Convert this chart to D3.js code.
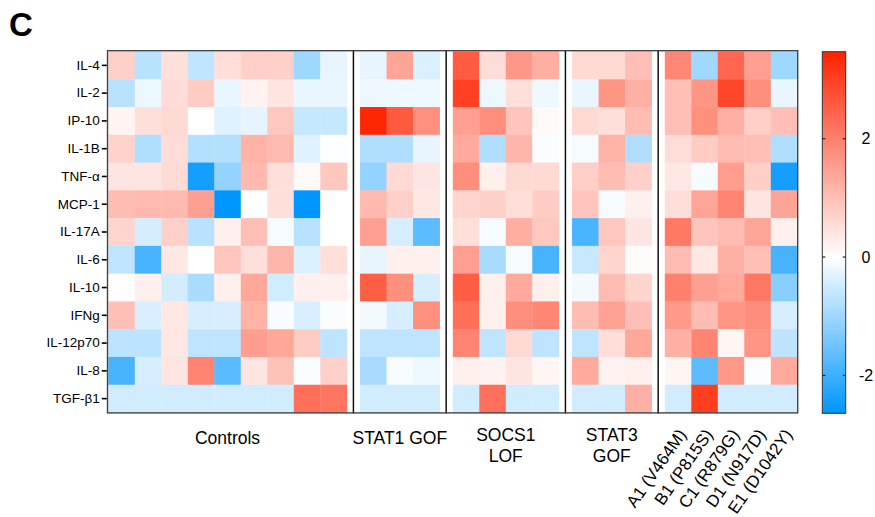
<!DOCTYPE html>
<html>
<head>
<meta charset="utf-8">
<script src="https://cdn.jsdelivr.net/npm/d3@7"></script>
<style>
  html, body { margin: 0; padding: 0; background: #fff; }
  svg { display: block; font-family: "Liberation Sans", Arial, sans-serif; }
</style>
</head>
<body>
<svg id="chart" width="875" height="517"></svg>
<script>
// Cytokines (rows, top to bottom)
const cytokines = ["IL-4", "IL-2", "IP-10", "IL-1B", "TNF-α", "MCP-1", "IL-17A",
                   "IL-6", "IL-10", "IFNg", "IL-12p70", "IL-8", "TGF-β1"];

// z-scores per group: one row per cytokine, one value per subject
const controls = [
  [0.74, -0.73, 0.5, -0.65, 0.52, 0.75, 0.74, -1.0, -0.24],
  [-0.73, -0.2, 0.55, 0.8, -0.22, 0.2, 0.41, -0.22, -0.22],
  [0.18, 0.5, 0.6, 0, -0.33, -0.27, 0.87, -0.59, -0.59],
  [0.71, -0.82, 0.55, -0.78, -0.78, 1.2, 1.08, -0.33, -0.03],
  [0.41, 0.41, 0.57, -2.43, -1.1, 1.1, 0.5, 0.1, 0.87],
  [1.05, 1.1, 1.08, 1.5, -2.64, 0, 0.5, -2.64, 0],
  [0.66, -0.43, 0.74, -0.73, 0.24, 1.0, -0.1, -0.73, 0],
  [-0.65, -1.9, 0.37, 0, 0.9, 0.5, 1.15, -0.36, 0.5],
  [0.03, 0.24, -0.46, -0.88, 0.24, 1.37, -0.49, 0.24, 0.24],
  [1.0, -0.4, 0.37, -0.42, -0.42, 1.2, -0.07, -0.4, -0.05],
  [-0.69, -0.69, 0.37, -0.67, -0.67, 1.52, 1.37, 0.8, -0.67],
  [-1.9, -0.42, 0.41, 1.92, -1.7, 0.41, 0.95, -0.05, 0.74],
  [-0.47, -0.47, -0.47, -0.47, -0.47, -0.47, -0.47, 2.25, 2.17]
];
const stat1Gof = [
  [-0.24, 1.41, -0.37],
  [-0.2, -0.2, -0.2],
  [3.4, 2.6, 1.75],
  [-0.82, -0.82, -0.24],
  [-1.1, 0.6, 0.41],
  [1.1, 0.74, 0.37],
  [1.5, -0.42, -1.68],
  [-0.24, 0.24, 0.24],
  [2.55, 1.75, -0.42],
  [-0.13, -0.42, 1.75],
  [-0.67, -0.67, -0.67],
  [-0.9, -0.07, -0.18],
  [-0.47, -0.47, -0.47]
];
const socs1Lof = [
  [2.58, 0.55, 1.62, 1.27],
  [3.0, -0.2, 0.5, -0.18],
  [1.5, 1.78, 0.91, 0.1],
  [1.33, -0.82, 1.15, -0.05],
  [1.78, 0.24, 0.6, 0.6],
  [0.66, 0.74, 0.53, 0.8],
  [0.5, -0.1, 1.27, 0.87],
  [1.5, -0.9, -0.1, -1.9],
  [2.55, 0.24, 1.33, 0.24],
  [2.27, 0.24, 1.78, 1.9],
  [1.92, -0.67, 0.6, -0.67],
  [0.24, 0.2, 0.41, 0.16],
  [-0.47, 2.25, -0.47, -0.47]
];
const stat3Gof = [
  [0.6, 0.6, 1.0],
  [-0.22, 1.66, 1.24],
  [0.6, 0.5, 1.05],
  [-0.1, 1.2, -0.82],
  [0.77, 1.05, 0.74],
  [0.91, -0.1, 0.24],
  [-1.88, 0.87, 0.41],
  [-0.57, 0.66, 0.06],
  [-0.13, 1.05, 0.66],
  [1.05, 1.46, 1.0],
  [-0.67, 0.53, 1.37],
  [1.33, 0.2, 0.24],
  [-0.47, -0.47, 1.24]
];
const patients = [
  [1.88, -0.98, 2.4, 1.5, -1.0],
  [1.0, 1.66, 2.9, 1.78, -0.22],
  [1.0, 1.75, 1.24, 0.77, 1.0],
  [0.55, 0.8, 1.05, 1.0, -0.82],
  [0.37, -0.1, 1.52, 0.77, -2.43],
  [0.52, 1.41, 1.92, 0.41, 1.41],
  [2.1, 0.91, 1.05, 1.41, 0.24],
  [1.05, 0.37, 1.24, 1.0, -1.9],
  [2.0, 1.5, 1.33, 2.12, -1.23],
  [1.58, 1.05, 1.66, 1.78, -0.42],
  [1.24, 1.92, 0.16, 1.66, -0.67],
  [0.16, -1.68, 1.62, -0.04, 1.33],
  [-0.47, 3.05, -0.47, -0.47, -0.47]
];
const patientLabels = ["A1 (V464M)", "B1 (P815S)", "C1 (R879G)", "D1 (N917D)", "E1 (D1042Y)"];

const groupNames = [["Controls"], ["STAT1 GOF"], ["SOCS1", "LOF"], ["STAT3", "GOF"], []];
const groupData = [controls, stat1Gof, socs1Lof, stat3Gof, patients];

// colour scale limits
const zMin = -2.64, zMax = 3.47;
const colorTicks = [-2, 0, 2];

// ---- layout ----
const svg = d3.select("#chart");
const mLeft = 108.3, mRight = 797.3, mTop = 51.5, mBottom = 412.5;
const gapUnits = 0.5;

// lay columns out in units: one unit per subject, half a unit between groups
const columns = [];
let unit = 0;
const groupSpans = [];
groupData.forEach((g, gi) => {
  const n = g[0].length;
  const start = unit;
  for (let c = 0; c < n; c++) {
    columns.push({ group: gi, col: c, u: unit });
    unit += 1;
  }
  groupSpans.push({ start, end: unit, sep: unit + gapUnits / 2 });
  if (gi < groupData.length - 1) unit += gapUnits;
});
const x = d3.scaleLinear().domain([0, unit]).range([mLeft, mRight]);
const y = d3.scaleBand().domain(cytokines).range([mTop, mBottom]);

const color = d3.scaleLinear()
  .domain([zMin, 0, zMax])
  .range(["rgb(0,150,255)", "#ffffff", "rgb(255,34,0)"])
  .interpolate(d3.interpolateRgb);

// cells
const cells = [];
columns.forEach(col => {
  cytokines.forEach((name, ri) => {
    cells.push({ col, name, v: groupData[col.group][ri][col.col] });
  });
});
svg.append("g").selectAll("rect").data(cells).join("rect")
  .attr("x", d => x(d.col.u))
  .attr("y", d => y(d.name))
  .attr("width", x(1) - x(0) + 0.4)
  .attr("height", y.bandwidth() + 0.4)
  .attr("fill", d => color(d.v));

// group separators
svg.append("g").selectAll("line").data(groupSpans.slice(0, -1)).join("line")
  .attr("x1", d => x(d.sep)).attr("x2", d => x(d.sep))
  .attr("y1", mTop - 1).attr("y2", mBottom + 1)
  .attr("stroke", "#111").attr("stroke-width", 1.5);

// frame
svg.append("rect")
  .attr("x", mLeft - 0.8).attr("y", mTop - 0.8)
  .attr("width", mRight - mLeft + 1.2).attr("height", mBottom - mTop + 1.2)
  .attr("fill", "none").attr("stroke", "#444").attr("stroke-width", 1.4);

// row axis
const yAxis = d3.axisLeft(y).tickSize(5).tickPadding(2);
const ga = svg.append("g").attr("transform", `translate(${mLeft - 1.5},0)`).call(yAxis);
ga.select(".domain").remove();
ga.selectAll(".tick line").attr("stroke", "#000").attr("stroke-width", 1.6);
ga.selectAll(".tick text").attr("fill", "#000").style("font-size", "13.5px")
  .style("font-family", "'Liberation Sans', Arial, sans-serif");

// group labels
groupNames.forEach((lines, gi) => {
  if (!lines.length) return;
  const cx = (x(groupSpans[gi].start) + x(groupSpans[gi].end)) / 2;
  const t = svg.append("text").attr("text-anchor", "middle")
    .attr("font-size", 17.5).attr("fill", "#000");
  if (lines.length === 1) {
    t.attr("x", cx).attr("y", 443.5).text(lines[0]);
  } else {
    lines.forEach((ln, i) => {
      t.append("tspan").attr("x", cx).attr("y", 441 + i * 20.5).text(ln);
    });
  }
});

// rotated patient labels
const pg = groupSpans[4];
svg.append("g").selectAll("text").data(patientLabels).join("text")
  .attr("transform", (d, i) => `translate(${x(pg.start + i + 0.5) + 4},${431}) rotate(-55)`)
  .attr("text-anchor", "end")
  .attr("dy", "0.35em")
  .attr("font-size", 17)
  .attr("fill", "#000")
  .text(d => d);

// panel letter
svg.append("text").attr("x", 9).attr("y", 36)
  .attr("font-size", 33).attr("font-weight", "bold").attr("fill", "#000").text("C");

// colour bar
const cbX = 822.3, cbW = 23.4, cbTop = 51.7, cbBottom = 413.3;
const cy = d3.scaleLinear().domain([zMin, zMax]).range([cbBottom, cbTop]);
const defs = svg.append("defs");
const grad = defs.append("linearGradient").attr("id", "zgrad")
  .attr("x1", 0).attr("y1", 1).attr("x2", 0).attr("y2", 0);
const stopValues = d3.range(zMin, 0, 0.25).concat([0]).concat(d3.range(0.25, zMax, 0.25)).concat([zMax]);
stopValues.forEach(v => {
  grad.append("stop")
    .attr("offset", (v - zMin) / (zMax - zMin))
    .attr("stop-color", color(v));
});

svg.append("rect").attr("x", cbX).attr("y", cbTop).attr("width", cbW).attr("height", cbBottom - cbTop)
  .attr("fill", "url(#zgrad)").attr("stroke", "#333").attr("stroke-width", 1);

const cb = svg.append("g");
colorTicks.forEach(v => {
  cb.append("line").attr("x1", cbX).attr("x2", cbX + 3).attr("y1", cy(v)).attr("y2", cy(v))
    .attr("stroke", "#222").attr("stroke-width", 1.2);
  cb.append("line").attr("x1", cbX + cbW - 3).attr("x2", cbX + cbW).attr("y1", cy(v)).attr("y2", cy(v))
    .attr("stroke", "#222").attr("stroke-width", 1.2);
  cb.append("text").attr("x", 866).attr("y", cy(v)).attr("dy", "0.36em")
    .attr("text-anchor", "middle").attr("font-size", 16).attr("fill", "#000").text(v);
});
</script>
</body>
</html>
